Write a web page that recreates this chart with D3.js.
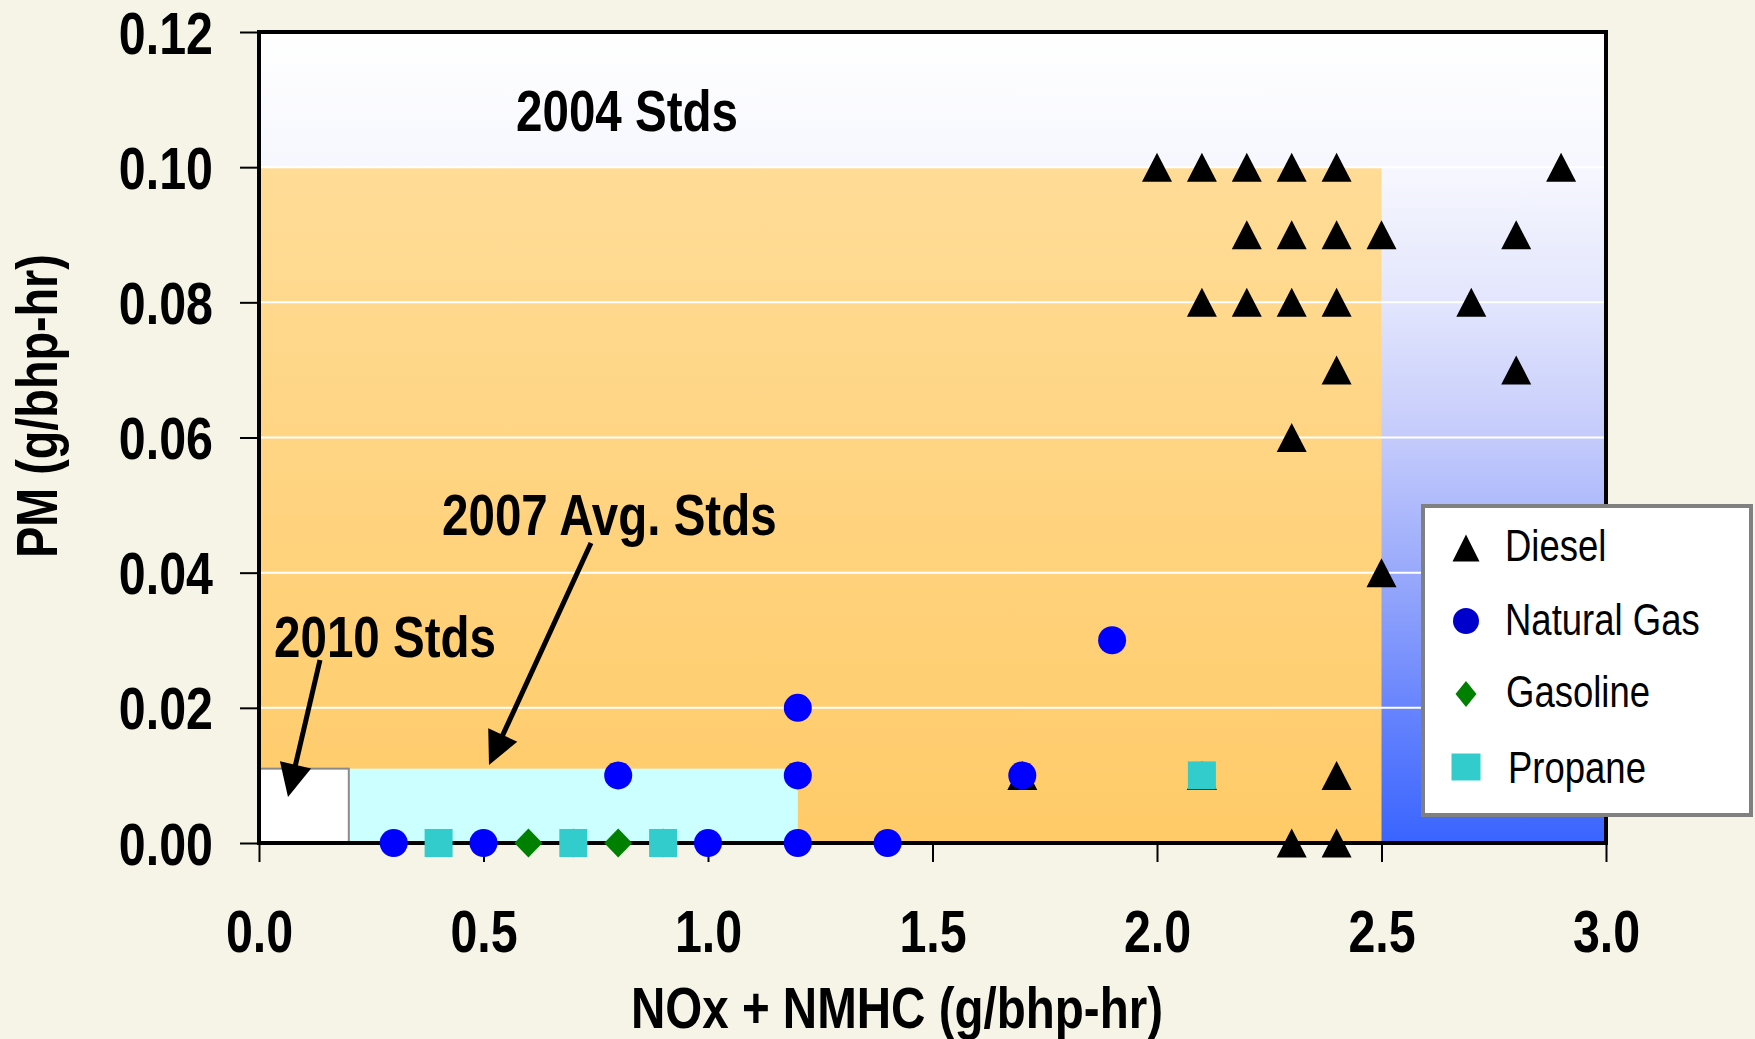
<!DOCTYPE html>
<html>
<head>
<meta charset="utf-8">
<script src="https://cdn.jsdelivr.net/npm/d3@7/dist/d3.min.js"></script>
<style>
  html, body { margin: 0; padding: 0; background: #F6F4E6; }
  svg { display: block; }
  text { font-family: "Liberation Sans", Arial, sans-serif; font-weight: bold; fill: #000; }
</style>
</head>
<body>
<script>
// ---------- data ----------
const xTicks = [0.0, 0.5, 1.0, 1.5, 2.0, 2.5, 3.0];
const yTicks = [0.00, 0.02, 0.04, 0.06, 0.08, 0.10, 0.12];
const seriesNames = ["Diesel", "Natural Gas", "Gasoline", "Propane"];

const diesel = [
  [2.0,0.10],[2.1,0.10],[2.2,0.10],[2.3,0.10],[2.4,0.10],[2.9,0.10],
  [2.2,0.09],[2.3,0.09],[2.4,0.09],[2.5,0.09],[2.8,0.09],
  [2.1,0.08],[2.2,0.08],[2.3,0.08],[2.4,0.08],[2.7,0.08],
  [2.4,0.07],[2.8,0.07],
  [2.3,0.06],
  [2.5,0.04],
  [1.7,0.01],[2.1,0.01],[2.4,0.01],
  [2.3,0.00],[2.4,0.00]
];
const naturalGas = [
  [0.3,0.00],[0.5,0.00],[1.0,0.00],[1.2,0.00],[1.4,0.00],
  [0.8,0.01],[1.2,0.01],[1.7,0.01],
  [1.2,0.02],[1.9,0.03]
];
const gasoline = [[0.6,0.00],[0.7,0.00],[0.8,0.00],[0.9,0.00]];
const propane = [[0.4,0.00],[0.7,0.00],[0.9,0.00],[2.1,0.01]];

// standards boxes: [x0, x1, y0, y1]
const std2004 = [0.0, 2.5, 0.0, 0.10];
const std2007 = [0.2, 1.2, 0.0, 0.011];
const std2010 = [0.0, 0.2, 0.0, 0.011];

// ---------- layout ----------
const W = 1755, H = 1039;
const L = 259, R = 1606, T = 32, B = 843;
const NX = 0.82; // horizontal condensing of the font

const svg = d3.select("body").append("svg").attr("width", W).attr("height", H);
const x = d3.scaleLinear().domain([0, 3.0]).range([L, R]);
const y = d3.scaleLinear().domain([0, 0.12]).range([B, T]);

const defs = svg.append("defs");
const bg = defs.append("linearGradient").attr("id", "bgGrad").attr("x1", 0).attr("y1", 0).attr("x2", 0).attr("y2", 1);
[[0, "#FFFFFF"], [0.17, "#F6F7FE"], [0.33, "#E3E6FD"], [0.5, "#C4CBFB"], [0.67, "#98A9FB"], [0.83, "#6885FD"], [1, "#3964FF"]]
  .forEach(([o, c]) => bg.append("stop").attr("offset", o).attr("stop-color", c));
const og = defs.append("linearGradient").attr("id", "orGrad").attr("x1", 0).attr("y1", 0).attr("x2", 0).attr("y2", 1);
[[0, "#FFDC97"], [1, "#FFCB68"]].forEach(([o, c]) => og.append("stop").attr("offset", o).attr("stop-color", c));

// plot background
svg.append("rect").attr("x", x(0)).attr("y", y(0.12)).attr("width", x(3) - x(0)).attr("height", y(0) - y(0.12))
  .attr("fill", "url(#bgGrad)");

function box(b, fill, stroke) {
  const r = svg.append("rect")
    .attr("x", x(b[0])).attr("y", y(b[3]))
    .attr("width", x(b[1]) - x(b[0])).attr("height", y(b[2]) - y(b[3]))
    .attr("fill", fill);
  if (stroke) r.attr("stroke", stroke).attr("stroke-width", 2);
}
box(std2004, "url(#orGrad)");
box(std2007, "#CCFFFF");
box(std2010, "#FFFFFF", "#8A8A8A");

// gridlines
svg.append("g").selectAll("line").data(yTicks.filter(d => d > 0 && d < 0.12)).join("line")
  .attr("x1", x(0)).attr("x2", x(3)).attr("y1", d => y(d)).attr("y2", d => y(d))
  .attr("stroke", "#FFFFFF").attr("stroke-width", 2);

// axes
const xAxis = svg.append("g").attr("transform", `translate(0,${B})`)
  .call(d3.axisBottom(x).tickValues(xTicks).tickFormat(d3.format(".1f")).tickSize(19));
const yAxis = svg.append("g").attr("transform", `translate(${L},0)`)
  .call(d3.axisLeft(y).tickValues(yTicks).tickFormat(d3.format(".2f")).tickSize(19));
[xAxis, yAxis].forEach(g => {
  g.select(".domain").remove();
  g.selectAll(".tick line").attr("stroke", "#000").attr("stroke-width", 2);
  g.selectAll(".tick text").style("font-size", "59px").style("font-weight", "bold").attr("fill", "#000").attr("dy", null);
});
xAxis.selectAll(".tick text").attr("x", 0).attr("y", 0)
  .attr("transform", `translate(0,109) scale(${NX},1)`);
yAxis.selectAll(".tick text").attr("x", 0).attr("y", 0)
  .attr("transform", `translate(-46,21) scale(${NX},1)`);

// frame
svg.append("rect").attr("x", x(0)).attr("y", y(0.12)).attr("width", x(3) - x(0)).attr("height", y(0) - y(0.12))
  .attr("fill", "none").attr("stroke", "#000").attr("stroke-width", 4);

// markers
function triPath(w, h) { return `M0,${-h/2}L${w/2},${h/2}L${-w/2},${h/2}Z`; }
function diaPath(w, h) { return `M0,${-h/2}L${w/2},0L0,${h/2}L${-w/2},0Z`; }
function sqPath(w, h) { return `M${-w/2},${-h/2}h${w}v${h}h${-w}Z`; }
function circPath(r) { return `M${-r},0a${r},${r} 0 1,0 ${2*r},0a${r},${r} 0 1,0 ${-2*r},0Z`; }

const marks = [
  { data: diesel, path: triPath(30, 29), fill: "#000000" },
  { data: naturalGas, path: circPath(14), fill: "#0000FF" },
  { data: gasoline, path: diaPath(28, 29), fill: "#008000" },
  { data: propane, path: sqPath(28, 28), fill: "#33CCCC" }
];
marks.forEach(m => {
  svg.append("g").selectAll("path").data(m.data).join("path")
    .attr("d", m.path).attr("fill", m.fill)
    .attr("transform", d => `translate(${x(d[0])},${y(d[1])})`);
});

// narrow text helper
function ntext(parent, tx, ty, str, size, anchor) {
  return parent.append("text")
    .attr("transform", `translate(${tx},${ty}) scale(${NX},1)`)
    .attr("text-anchor", anchor || "start")
    .style("font-size", size + "px").text(str);
}

// annotations
ntext(svg, 516, 131, "2004 Stds", 58);
ntext(svg, 442, 535, "2007 Avg. Stds", 58);
ntext(svg, 274, 657, "2010 Stds", 58);

function arrow(x0, y0, x1, y1) {
  const dx = x1 - x0, dy = y1 - y0, len = Math.hypot(dx, dy);
  const ux = dx / len, uy = dy / len, hl = 33, hw = 16;
  const bx = x1 - ux * hl, by = y1 - uy * hl;
  svg.append("line").attr("x1", x0).attr("y1", y0).attr("x2", bx + ux * 4).attr("y2", by + uy * 4)
    .attr("stroke", "#000").attr("stroke-width", 5);
  svg.append("path")
    .attr("d", `M${x1},${y1}L${bx - uy * hw},${by + ux * hw}L${bx + uy * hw},${by - ux * hw}Z`)
    .attr("fill", "#000");
}
arrow(591, 543, 489, 765);
arrow(320, 660, 288, 797);

// axis titles
ntext(svg, 897, 1028, "NOx + NMHC (g/bhp-hr)", 58, "middle");
svg.append("text").attr("transform", `translate(57,406) rotate(-90) scale(${NX},1)`).attr("text-anchor", "middle")
  .style("font-size", "57px").text("PM (g/bhp-hr)");

// legend
const lg = svg.append("g");
lg.append("rect").attr("x", 1423).attr("y", 506).attr("width", 328).attr("height", 309)
  .attr("fill", "#FFFFFF").attr("stroke", "#808080").attr("stroke-width", 4);
const legendMarks = [
  { path: triPath(27, 27), fill: "#000000", cy: 548, tx: 1505, ty: 561 },
  { path: circPath(13), fill: "#0000CC", cy: 621, tx: 1505, ty: 635 },
  { path: diaPath(21, 26), fill: "#008000", cy: 694, tx: 1506, ty: 707 },
  { path: sqPath(29, 27), fill: "#33CCCC", cy: 767, tx: 1508, ty: 783 }
];
legendMarks.forEach((m, i) => {
  lg.append("path").attr("d", m.path).attr("fill", m.fill).attr("transform", `translate(1466,${m.cy})`);
  ntext(lg, m.tx, m.ty, seriesNames[i], 44.5).style("font-weight", "normal");
});
</script>
</body>
</html>
